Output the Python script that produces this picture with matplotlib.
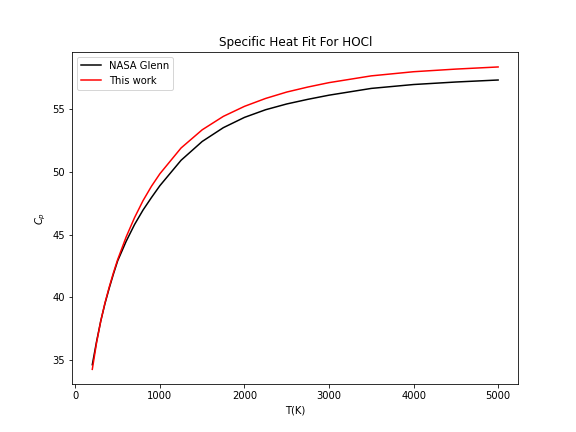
import matplotlib
matplotlib.use("Agg")
import matplotlib.pyplot as plt

T = [200, 250, 300, 350, 400, 450, 500, 600, 700, 800, 900, 1000, 1250, 1500,
     1750, 2000, 2250, 2500, 2750, 3000, 3500, 4000, 4500, 5000]
cp_nasa = [34.62, 36.45, 38.1, 39.5, 40.72, 41.85, 42.9, 44.45, 45.8, 46.95, 47.95, 48.9,
           50.92, 52.42, 53.52, 54.34, 54.95, 55.41, 55.78, 56.11, 56.65, 56.96, 57.16, 57.32]
cp_fit = [34.25, 36.35, 38.1, 39.55, 40.8, 41.95, 43.0, 44.8, 46.35, 47.7, 48.85, 49.85,
          51.9, 53.35, 54.42, 55.22, 55.85, 56.36, 56.76, 57.11, 57.65, 57.98, 58.19, 58.36]

fig, ax = plt.subplots(figsize=(8, 6), dpi=72)
ax.plot(T, cp_nasa, color="black", label="NASA Glenn")
ax.plot(T, cp_fit, color="red", label="This work")
ax.set_title("Specific Heat Fit For HOCl")
ax.set_xlabel("T(K)")
ax.set_ylabel("$C_p$")
ax.legend(loc="upper left")
fig.savefig("out.png", dpi=72)
